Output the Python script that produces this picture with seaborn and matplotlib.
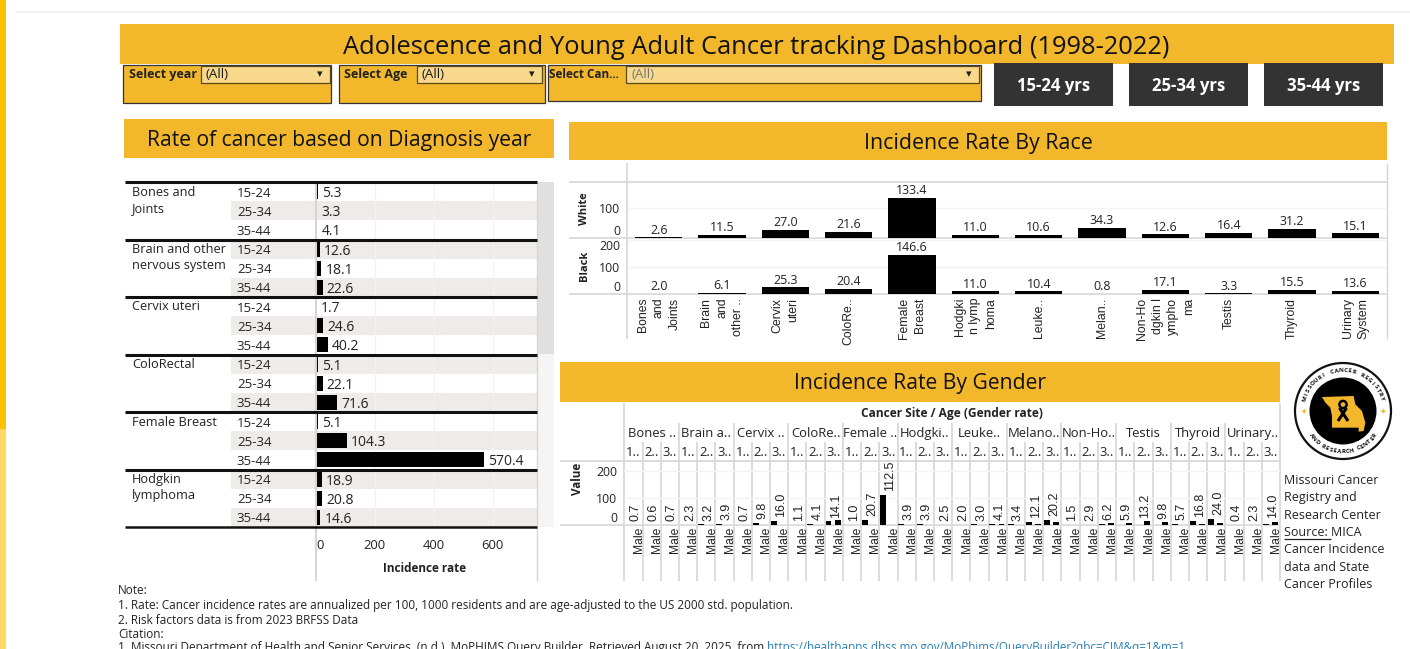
import numpy as np
import pandas as pd
import matplotlib
matplotlib.use("Agg")
import matplotlib.pyplot as plt
from matplotlib.patches import Rectangle, Circle, Polygon
import seaborn as sns

# ---------- data ----------
ages = ["15-24", "25-34", "35-44"]
left_sites = ["Bones and\nJoints", "Brain and other\nnervous system", "Cervix uteri",
              "ColoRectal", "Female Breast", "Hodgkin\nlymphoma"]
left_rates = [5.3, 3.3, 4.1, 12.6, 18.1, 22.6, 1.7, 24.6, 40.2,
              5.1, 22.1, 71.6, 5.1, 104.3, 570.4, 18.9, 20.8, 14.6]
left_ticks = [0, 200, 400, 600]

race_sites = ["Bones\nand\nJoints", "Brain\nand\nother ..", "Cervix\nuteri", "ColoRe..",
              "Female\nBreast", "Hodgki\nn lymp\nhoma", "Leuke..", "Melan..",
              "Non-Ho\ndgkin l\nympho\nma", "Testis", "Thyroid", "Urinary\nSystem"]
white_rates = [2.6, 11.5, 27.0, 21.6, 133.4, 11.0, 10.6, 34.3, 12.6, 16.4, 31.2, 15.1]
black_rates = [2.0, 6.1, 25.3, 20.4, 146.6, 11.0, 10.4, 0.8, 17.1, 3.3, 15.5, 13.6]

gender_sites = ["Bones ..", "Brain a..", "Cervix ..", "ColoRe..", "Female ..", "Hodgki..",
                "Leuke..", "Melano..", "Non-Ho..", "Testis", "Thyroid", "Urinary.."]
gender_age_heads = ["1..", "2..", "3.."]
gender_labels = [0.7, 0.6, 0.7, 2.3, 3.2, 3.9, 0.7, 9.8, 16.0, 1.1, 4.1, 14.1,
                 1.0, 20.7, 112.5, 3.9, 3.9, 2.5, 2.0, 3.0, 4.1, 3.4, 12.1, 20.2,
                 1.5, 2.9, 6.2, 5.9, 13.2, 9.8, 5.7, 16.8, 24.0, 0.4, 2.3, 14.0]
gender_left = [0.7, 0.6, 0.7, 2.3, 3.2, 3.9, 0.7, 9.8, 16.0, 1.1, 4.1, 14.1,
               1.0, 20.7, 112.5, 3.9, 3.9, 2.5, 2.0, 3.0, 4.1, 3.4, 12.1, 20.2,
               1.5, 2.9, 6.2, 0.0, 0.0, 0.0, 5.7, 16.8, 24.0, 0.4, 2.3, 3.5]
gender_right = [0, 0, 0, 0, 0, 0, 0, 0, 0, 0, 0, 18.0,
                0, 0, 0, 0, 0, 0, 0, 0, 6.0, 0, 3.0, 12.0,
                0, 0, 8.0, 8.0, 15.0, 12.0, 0, 3.0, 7.0, 0, 0, 14.0]

title = "Adolescence and Young Adult Cancer tracking Dashboard (1998-2022)"
side_lines = ["Missouri Cancer", "Registry and", "Research Center", "Source: MICA",
              "Cancer Incidence", "data and State", "Cancer Profiles"]
notes = ["Note:",
         "1. Rate: Cancer incidence rates are annualized per 100, 1000 residents and are age-adjusted to the US 2000 std. population.",
         "2. Risk factors data is from 2023 BRFSS Data",
         "Citation:",
         "1. Missouri Department of Health and Senior Services. (n.d.). MoPHIMS Query Builder. Retrieved August 20, 2025, from "]
link = "https://healthapps.dhss.mo.gov/MoPhims/QueryBuilder?qbc=CIM&q=1&m=1"

# ---------- style ----------
sns.set_theme(style="white")
UI = ["Open Sans", "DejaVu Sans"]
ARIAL = ["Liberation Sans", "DejaVu Sans"]
plt.rcParams["font.family"] = UI
W, H = 1410, 649
GOLD, INK, GRID, RULE, BAND = "#f2b72b", "#1a1a1a", "#f3f3f3", "#d6d6d6", "#eeebe8"
fig = plt.figure(figsize=(W / 100, H / 100), dpi=100, facecolor="white")


def layer(z):
    a = fig.add_axes([0, 0, 1, 1], zorder=z)
    a.set_xlim(0, W); a.set_ylim(H, 0); a.axis("off"); a.patch.set_alpha(0)
    return a


bg, fg = layer(0), layer(5)


def rect(a, l, t, r, b, fc, ec="none", lw=0):
    a.add_patch(Rectangle((l, t), r - l, b - t, fc=fc, ec=ec, lw=lw))


def hline(a, y, l, r, c=RULE, lw=1.0):
    a.plot([l, r], [y, y], color=c, lw=lw, solid_capstyle="butt")


def vline(a, x, t, b, c=RULE, lw=1.0):
    a.plot([x, x], [t, b], color=c, lw=lw, solid_capstyle="butt")


def txt(a, x, y, s, size=8.6, ha="left", va="center", **k):
    k.setdefault("color", INK)
    return a.text(x, y, s, fontsize=size, ha=ha, va=va, **k)


def pax(l, t, r, b):
    a = fig.add_axes([l / W, 1 - b / H, (r - l) / W, (b - t) / H], zorder=3)
    a.patch.set_alpha(0)
    sns.despine(ax=a, left=True, bottom=True, right=True, top=True)
    a.tick_params(length=0)
    return a


# ---------- page furniture ----------
rect(bg, 0, 0, 5.5, 429, "#ffc000")
rect(bg, 0, 429, 5.5, H, "#ffd966")
hline(bg, 12, 16, W, "#eeeeee", 1.2)
rect(bg, 120, 24, 1394, 64, GOLD)
txt(bg, 756.5, 47, title, 18.4, ha="center", color="#111111", fontweight="medium")

for l, r, dl, dr, t, lab, val, col, fs in [
        (123, 331, 201, 330, 103, "Select year", "(All)", INK, 9.0),
        (338.5, 545, 417, 542, 103, "Select Age", "(All)", INK, 9.0),
        (547.5, 981, 626, 979, 101, "Select Can...", "(All)", "#777777", 8.5)]:
    rect(bg, l, 65, r, t, GOLD, "#333333", 0.9)
    rect(bg, dl, 65.5, dr, 83, "#f8d88b", "#5a4a1a", 0.9)
    txt(bg, l + 6 if "Can" not in lab else l + 1.5, 74.5, lab, fs, fontweight="bold", color="#222222")
    txt(bg, dl + 5, 75, val, 9.6, color=col)
    txt(bg, dr - 10, 74.5, "\u25be", 8, ha="center", family="DejaVu Sans", color="#222222")

for l, r, s in [(994, 1113, "15-24 yrs"), (1129, 1248, "25-34 yrs"), (1264, 1383, "35-44 yrs")]:
    rect(bg, l, 63, r, 105.5, "#333333")
    txt(bg, (l + r) / 2, 86, s, 12.1, ha="center", color="white", fontweight="bold")

for l, t, r, b, s, fs in [(124, 119, 554, 158, "Rate of cancer based on Diagnosis year", 15.2),
                          (569, 122, 1387, 160, "Incidence Rate By Race", 15.4),
                          (560, 362, 1280, 402, "Incidence Rate By Gender", 15.2)]:
    rect(bg, l, t, r, b, GOLD)
    txt(bg, (l + r) / 2 + (0.5 if l == 124 else 0), (t + b) / 2 + 2, s, fs, ha="center",
        color="#111111", fontweight="medium")

# ---------- left table chart ----------
LT, LB, LL, LR = 182, 527, 316, 537
n_rows = len(left_rates)
row_h = (LB - LT) / n_rows
rect(bg, 538, LT, 554, LB, "#f5f5f5")
rect(bg, 538, LT, 554, 354, "#e0e0e0")
for i in range(1, n_rows, 2):
    rect(bg, 231, LT + i * row_h, LR, LT + (i + 1) * row_h, BAND)

row_keys = [f"{s}|{a}" for s in left_sites for a in ages]
left_df = pd.DataFrame({"row": row_keys, "rate": left_rates})
ax = pax(LL, LT, LR, LB)
sns.barplot(data=left_df, x="rate", y="row", order=row_keys, color="black", saturation=1,
            width=0.78, orient="h", ax=ax, linewidth=0)
ax.set_xlim(0, (LR - LL) / 0.2945)
ax.set_ylim(n_rows - 0.5, -0.5)
ax.set_xlabel(""); ax.set_ylabel("")
ax.set_xticks(left_ticks)
ax.set_xticklabels([str(v) for v in left_ticks], fontsize=9.4, color="#222222")
ax.get_xticklabels()[0].set_ha("left")
ax.tick_params(axis="x", pad=8.5)
ax.set_yticks(range(n_rows))
ax.set_yticklabels(ages * len(left_sites), fontsize=9.5, color="#222222", ha="left")
ax.tick_params(axis="y", pad=57)
ax.grid(axis="x", color=GRID, lw=1)
ax.grid(axis="y", visible=False)
ax.set_axisbelow(True)
for lab in ax.bar_label(ax.containers[0], fmt="%.1f", padding=3.0, fontsize=10.0, color="#222222"):
    lab.set_va("center_baseline")
vline(fg, LL, LT, 581, RULE, 1.5)
vline(bg, LR, LT, 581, RULE, 1.0)
txt(fg, 425, 569, "Incidence rate", 8.5, ha="center", fontweight="bold", color="#222222")
for k, s in enumerate(left_sites):
    y0 = LT + 3 * k * row_h
    hline(fg, y0, 125, LR, "#111111", 2.2)
    txt(bg, 132, y0 + 3.5, s, 9.2, va="top", linespacing=1.31, color="#222222")
hline(fg, LB, 125, LR, "#111111", 1.8)

# ---------- race chart ----------
RL, RR = 627, 1387
ax_w = pax(RL, 182, RR, 238)
ax_b = pax(RL, 238, RR, 294.3)
for a, vals, scale, name, ticks in [(ax_w, white_rates, 0.30, "White", [0, 100]),
                                    (ax_b, black_rates, 0.27, "Black", [0, 100, 200])]:
    d = pd.DataFrame({"site": race_sites, "rate": vals})
    sns.barplot(data=d, x="site", y="rate", order=race_sites, color="black", saturation=1,
                width=0.75, ax=a, linewidth=0)
    a.set_ylim(0, 56.2 / scale)
    a.set_xlim(-0.5, len(race_sites) - 0.5)
    a.set_xlabel("")
    a.set_ylabel(name, fontsize=8, fontweight="bold", color="#222222")
    a.yaxis.set_label_coords((590 - RL) / (RR - RL), 0.52 if name == "White" else 0.5)
    a.set_yticks(ticks)
    a.set_yticklabels([str(t) for t in ticks], fontsize=8.8, color="#222222")
    a.get_yticklabels()[0].set_va("bottom")
    if name == "Black":
        a.get_yticklabels()[-1].set_va("top")
    a.tick_params(axis="y", pad=5)
    a.grid(axis="y", color=GRID, lw=1)
    a.grid(axis="x", visible=False)
    a.set_axisbelow(True)
    a.bar_label(a.containers[0], fmt="%.1f", padding=0.5, fontsize=8.9, color="#222222")
ax_w.set_xticks([])
ax_b.set_xticks(range(len(race_sites)))
ax_b.set_xticklabels(race_sites, rotation=90, fontsize=8.8, ha="center", va="top",
                     multialignment="right", linespacing=1.4, family=ARIAL, color="#222222")
ax_b.tick_params(axis="x", pad=2.5)
for y in (182, 238, 294.3):
    hline(bg, y, 569, RR, RULE, 1.2)
vline(bg, RL, 163, 339, RULE, 1.2)
vline(bg, RR, 163, 339, RULE, 1.0)

# ---------- gender chart ----------
GL, GR, GT, GB = 624.3, 1280, 461, 525.3
n_cells = len(gender_labels)
cell_w = (GR - GL) / n_cells
cell_keys = [f"{s}|{a}" for s in gender_sites for a in ages]
gender_df = pd.DataFrame({
    "cell": cell_keys * 2,
    "series": ["Other"] * n_cells + ["Male"] * n_cells,
    "value": gender_left + gender_right})
ax_g = pax(GL, GT, GR, GB)
sns.barplot(data=gender_df, x="cell", y="value", order=cell_keys, hue="series",
            hue_order=["Other", "Male"], palette=["black", "black"], saturation=1,
            width=1.0, gap=0.35, legend=False, ax=ax_g, linewidth=0)
ax_g.set_ylim(0, (GB - GT) / 0.27)
ax_g.set_xlim(-0.46, n_cells - 0.46)
ax_g.set_xlabel("")
ax_g.set_ylabel("Value", fontsize=8.4, fontweight="bold", color="#222222")
ax_g.yaxis.set_label_coords((584 - GL) / (GR - GL), 0.72)
ax_g.set_yticks([0, 100, 200])
ax_g.set_yticklabels(["0", "100", "200"], fontsize=8.8, color="#222222")
ax_g.get_yticklabels()[0].set_va("bottom")
ax_g.tick_params(axis="y", pad=5)
ax_g.grid(axis="y", color=GRID, lw=1)
ax_g.grid(axis="x", visible=False)
ax_g.set_axisbelow(True)
ax_g.set_xticks(np.arange(n_cells) + 0.33)
ax_g.set_xticklabels(["Male"] * n_cells, rotation=90, fontsize=8.7, family=ARIAL,
                     ha="center", va="top", color="#222222")
ax_g.tick_params(axis="x", pad=1.2)
for i, v in enumerate(gender_labels):
    ax_g.annotate(f"{v:.1f}", xy=(i + 0.14, v), xytext=(0, 2.7), textcoords="offset points",
                  rotation=90, ha="center", va="bottom", fontsize=9.0, family=ARIAL,
                  color="#222222", annotation_clip=False)
for i in range(n_cells + 1):
    x = GL + i * cell_w
    top = 403 if i in (0, n_cells) else (423 if i % 3 == 0 else 442)
    vline(bg, x, top, 581, RULE, 1.2)
for y in (GT, GB):
    hline(bg, y, 560, GR, RULE, 1.2)
txt(bg, 952, 414, "Cancer Site / Age (Gender rate)", 8.6, ha="center", fontweight="bold", color="#222222")
for k, s in enumerate(gender_sites):
    txt(bg, GL + (3 * k + 1.5) * cell_w, 433.5, s, 9.4, ha="center", color="#222222")
for i in range(n_cells):
    txt(bg, GL + (i + 0.5) * cell_w, 452.5, gender_age_heads[i % 3], 9.4, ha="center", color="#222222")

# ---------- logo ----------
cx, cy = 1343, 411
bg.add_patch(Circle((cx, cy), 48, fc="white", ec="#111111", lw=1.6))
bg.add_patch(Circle((cx, cy), 33.5, fc="black", ec="white", lw=0))
pts = [(1175, 108), (1270, 105), (1275, 130), (1295, 150), (1305, 185), (1300, 210), (1285, 212),
       (1285, 200), (1205, 200), (1205, 165), (1200, 140), (1185, 125)]
bg.add_patch(Polygon([(cx + (x - 1238) / 3, cy + (y - 150) / 3) for x, y in pts], fc=GOLD, ec="none"))
bg.plot([cx - 5, cx + 3.5], [cy + 10, cy - 3], color="black", lw=2.2, solid_capstyle="butt")
bg.plot([cx + 5, cx - 3.5], [cy + 10, cy - 3], color="black", lw=2.2, solid_capstyle="butt")
bg.add_patch(Circle((cx, cy - 6.5), 3.6, fc="none", ec="black", lw=1.8))
for dx in (-39.5, 39.5):
    txt(bg, cx + dx, cy + 0.5, "\u2726", 5.5, ha="center", family="DejaVu Sans", color=GOLD)


def arc_text(s, start, end, r, flip=False):
    for ch, ang in zip(s, np.linspace(start, end, len(s))):
        th = np.deg2rad(ang)
        x, y = cx + r * np.sin(th), cy - r * np.cos(th)
        rot = -ang + (180 if flip else 0)
        bg.text(x, y, ch, fontsize=4.4, rotation=rot, rotation_mode="anchor", ha="center", va="center",
                color="#111111", fontweight="bold")


arc_text("MISSOURI CANCER REGISTRY", -72, 72, 40.5)
arc_text("AND RESEARCH CENTER", 232, 128, 40.5, flip=True)

# ---------- side and notes ----------
for i, s in enumerate(side_lines):
    txt(bg, 1284, 480.5 + i * 17.35, s, 9.0, color="#222222")
hline(bg, 538.5, 1284, 1331, "#222222", 0.9)
for i, s in enumerate(notes):
    t = txt(bg, 118, [591, 605.5, 620, 634, 648][i], s, 8.5 if i == 4 else 8.45, color="#222222")
fig.canvas.draw()
bb = t.get_window_extent()
txt(bg, bb.x1, 648, link, 8.4, color="#2a7fb8")

fig.savefig("out.png", dpi=100, facecolor="white")
